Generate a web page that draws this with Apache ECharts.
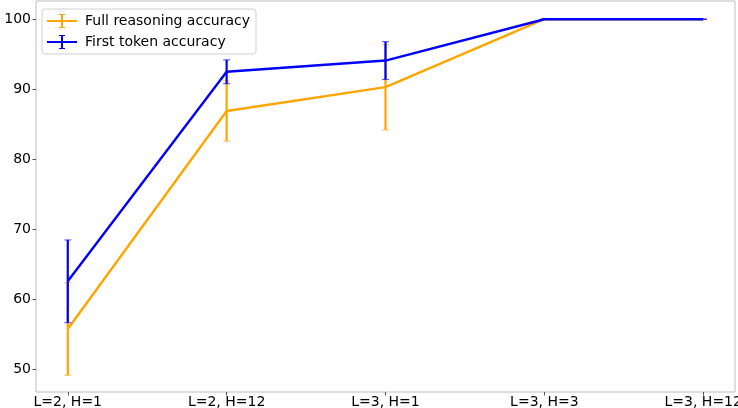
<!DOCTYPE html>
<html>
<head>
<meta charset="utf-8">
<script src="https://cdn.jsdelivr.net/npm/echarts@6/dist/echarts.min.js"></script>
<style>
html,body{margin:0;padding:0;background:#fff;}
#chart{width:738px;height:408px;}
</style>
</head>
<body>
<div id="chart"></div>
<script>
const categories = ['L=2, H=1', 'L=2, H=12', 'L=3, H=1', 'L=3, H=3', 'L=3, H=12'];
const fullAcc = [55.8, 86.9, 90.3, 100, 100];
const fullErr = [6.6, 4.3, 6.1, 0, 0];
const firstAcc = [62.6, 92.5, 94.1, 100, 100];
const firstErr = [5.9, 1.7, 2.7, 0, 0];
const yTicks = [50, 60, 70, 80, 90, 100];
const seriesNames = ['Full reasoning accuracy', 'First token accuracy'];
const colors = ['#FFA500', '#0000FF'];

const FONT = 'DejaVu Sans';
const chart = echarts.init(document.getElementById('chart'), null, {renderer: 'canvas'});

function errData(vals, errs) {
  return vals.map((v, i) => [i, v, v - errs[i], v + errs[i]]);
}
function errSeries(name, vals, errs, color, z) {
  return {
    name: name,
    type: 'custom',
    z: z,
    itemStyle: {color: color},
    data: errData(vals, errs),
    encode: {x: 0, y: [2, 3]},
    renderItem: function (params, api) {
      const x = api.value(0);
      const lo = api.coord([x, api.value(2)]);
      const hi = api.coord([x, api.value(3)]);
      const cw = 3.5;
      return {
        type: 'group',
        children: [
          {type: 'line', shape: {x1: lo[0], y1: lo[1], x2: hi[0], y2: hi[1]}, style: {stroke: color, lineWidth: 2.2}},
          {type: 'line', shape: {x1: lo[0] - cw, y1: lo[1], x2: lo[0] + cw, y2: lo[1]}, style: {stroke: color, lineWidth: 1.2, opacity: 0.6}},
          {type: 'line', shape: {x1: hi[0] - cw, y1: hi[1], x2: hi[0] + cw, y2: hi[1]}, style: {stroke: color, lineWidth: 1.2, opacity: 0.6}}
        ]
      };
    }
  };
}
function lineSeries(name, vals, color, z) {
  return {
    name: name,
    type: 'line',
    z: z,
    symbol: 'none',
    data: vals.map((v, i) => [i, v]),
    lineStyle: {color: color, width: 2.4},
    itemStyle: {color: color}
  };
}

const icon = 'path://M0,6.0 L30,6.0 L30,8.0 L0,8.0 Z M14,0 L16,0 L16,14 L14,14 Z M12,0 L18,0 L18,1 L12,1 Z M12,13 L18,13 L18,14 L12,14 Z';

chart.setOption({
  animation: false,
  backgroundColor: '#fff',
  grid: {left: 36, right: 3, top: 1, bottom: 16, containLabel: false, outerBoundsMode: 'none', show: true, borderColor: '#bdbdbd', borderWidth: 1, backgroundColor: 'transparent'},
  legend: {
    left: 42, top: 9, orient: 'vertical',
    itemWidth: 30, itemHeight: 14, itemGap: 7,
    padding: [5, 6, 5, 5],
    backgroundColor: 'rgba(255,255,255,0.8)',
    borderColor: '#d0d0d0', borderWidth: 1, borderRadius: 3,
    textStyle: {fontFamily: FONT, fontSize: 14, color: '#000', padding: [0, 0, 0, 3]},
    data: [
      {name: seriesNames[0], icon: icon, itemStyle: {color: colors[0]}},
      {name: seriesNames[1], icon: icon, itemStyle: {color: colors[1]}}
    ]
  },
  xAxis: {
    type: 'value', min: -0.2, max: 4.2,
    axisLine: {show: false, onZero: false},
    splitLine: {show: false},
    axisTick: {show: true, length: 3.5, lineStyle: {color: '#555'}, customValues: [0, 1, 2, 3, 4]},
    axisLabel: {
      customValues: [0, 1, 2, 3, 4],
      fontFamily: FONT, fontSize: 14, color: '#000', margin: 3,
      formatter: function (v) { return categories[Math.round(v)]; }
    }
  },
  yAxis: {
    type: 'value', min: 46.8, max: 102.6,
    axisLine: {show: false, onZero: false},
    splitLine: {show: false},
    axisTick: {show: true, length: 3.5, lineStyle: {color: '#555'}, customValues: yTicks},
    axisLabel: {customValues: yTicks, fontFamily: FONT, fontSize: 14, color: '#000', margin: 5}
  },
  series: [
    errSeries(seriesNames[0], fullAcc, fullErr, colors[0], 2),
    lineSeries(seriesNames[0], fullAcc, colors[0], 3),
    errSeries(seriesNames[1], firstAcc, firstErr, colors[1], 4),
    lineSeries(seriesNames[1], firstAcc, colors[1], 5)
  ]
});
</script>
</body>
</html>
